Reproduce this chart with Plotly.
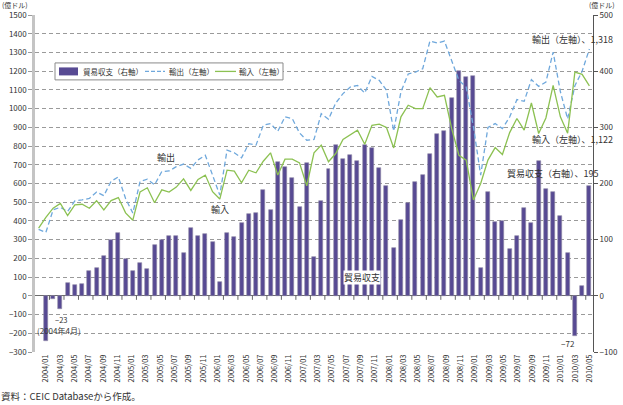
import plotly.graph_objects as go

# ---------------- data ----------------
months = [f"{y}/{m:02d}" for y in range(2004, 2011) for m in range(1, 13)][:77]  # 2004/01 .. 2010/05
tick_labels = months[::2]

exports = [355, 339, 459, 473, 450, 507, 512, 520, 555, 535,
           612, 635, 520, 442, 611, 623, 593, 664, 667, 690,
           704, 681, 726, 751, 645, 538, 778, 764, 737, 813,
           805, 911, 920, 879, 956, 947, 870, 831, 835, 973,
           943, 1030, 1080, 1115, 1124, 1083, 1172, 1151, 1098, 880,
           1090, 1185, 1195, 1213, 1361, 1350, 1361, 1260, 1151, 1115,
           902, 645, 899, 920, 893, 955, 1048, 1039, 1155, 1119,
           1142, 1302, 1090, 945, 1122, 1200, 1318]

imports = [362, 419, 468, 494, 429, 486, 489, 468, 508, 459,
           509, 525, 443, 404, 555, 577, 497, 566, 554, 581,
           625, 563, 622, 645, 556, 517, 671, 666, 604, 671,
           657, 719, 764, 645, 730, 730, 710, 588, 764, 805,
           716, 760, 835, 858, 885, 810, 911, 917, 899, 790,
           956, 1018, 1000, 1000, 1112, 1062, 1071, 893, 751, 725,
           512, 600, 725, 792, 755, 872, 947, 885, 1030, 867,
           950, 1124, 956, 869, 1195, 1183, 1121]

balance = [None, -80, -5, -23, 22, 19, 21, 45, 50, 71, 100,
           111, 65, 44, 58, 47, 90, 99, 106, 107, 77,
           121, 106, 110, 95, 25, 111, 104, 129, 145, 147,
           188, 153, 238, 229, 209, 159, 237, 69, 169, 225,
           269, 243, 250, 240, 269, 263, 227, 195, 86, 135,
           166, 202, 215, 253, 288, 294, 353, 401, 390, 391,
           49, 185, 132, 133, 83, 107, 157, 130, 240, 191,
           185, 142, 77, -72, 17, 195]

# ---------------- style ----------------
W, H = 623, 405
L, R, T, B = 35, 593, 15, 352.5
FONT = "Noto Sans CJK JP, Noto Sans, sans-serif"
TXT = "#333333"
BAR = "#574a93"
BLUE = "#6fa8dc"
GREEN = "#8cc152"


def px(x):
    return (x - L) / (R - L)


def py(y):
    return (B - y) / (B - T)


idx = list(range(len(months)))

fig = go.Figure()
fig.add_trace(go.Bar(x=idx, y=balance, yaxis="y", width=0.55,
                     marker=dict(color=BAR, line=dict(color="#8e8aa6", width=0.6)),
                     name="貿易収支（右軸）", showlegend=False))
fig.add_trace(go.Scatter(x=idx, y=exports, yaxis="y2", mode="lines",
                         line=dict(color=BLUE, width=1.3, dash="5px,3px"),
                         name="輸出（左軸）", showlegend=False))
fig.add_trace(go.Scatter(x=idx, y=imports, yaxis="y2", mode="lines",
                         line=dict(color=GREEN, width=1.3),
                         name="輸入（左軸）", showlegend=False))

first, last = 1, len(months) - 1
step = (last - first) / (len(tick_labels) - 1)
label_pos = [first + k * step for k in range(len(tick_labels))]
zero_ticks = [i + 0.5 for i in range(1, len(months) - 1, 2)]

shapes = []
for t in zero_ticks:
    shapes.append(dict(type="line", xref="x", yref="y", x0=t, x1=t,
                       ysizemode="pixel", yanchor=0, y0=0, y1=-4,
                       line=dict(color="#666666", width=1)))

# legend (manual)
shapes += [
    dict(type="rect", xref="paper", yref="paper", x0=px(55), x1=px(283), y0=py(80), y1=py(63),
         line=dict(color="#8a8a8a", width=1), fillcolor="white", layer="above"),
    dict(type="rect", xref="paper", yref="paper", x0=px(59), x1=px(78), y0=py(75.5), y1=py(67.5),
         line=dict(width=0), fillcolor=BAR, layer="above"),
    dict(type="line", xref="paper", yref="paper", x0=px(145), x1=px(165), y0=py(71.5), y1=py(71.5),
         line=dict(color=BLUE, width=1.3, dash="4px,2px"), layer="above"),
    dict(type="line", xref="paper", yref="paper", x0=px(215), x1=px(236), y0=py(71.5), y1=py(71.5),
         line=dict(color=GREEN, width=1.3), layer="above"),
]


def ann(text, x, y, size=9, xanchor="center", bg=None):
    d = dict(text=text, xref="paper", yref="paper", x=px(x), y=py(y), showarrow=False,
             xanchor=xanchor, yanchor="middle", font=dict(family=FONT, size=size, color=TXT),
             borderpad=0)
    if bg:
        d["bgcolor"] = bg
    return d


annotations = [
    ann("貿易収支（右軸）", 82, 71.5, 7.5, "left"),
    ann("輸出（左軸）", 168, 71.5, 7.5, "left"),
    ann("輸入（左軸）", 238, 71.5, 7.5, "left"),
    ann("(億ドル)", 1, 5, 7, "left"),
    ann("(億ドル)", 588, 5, 7, "left"),
    ann("輸出", 166, 158, 9),
    ann("輸入", 219.5, 210, 9),
    ann("貿易収支", 361.5, 278, 9, bg="white"),
    ann("輸出（左軸）、1,318", 614, 40, 9, "right"),
    ann("輸入（左軸）、1,122", 614, 140, 9, "right"),
    ann("貿易収支（右軸）、195", 600, 174, 9, "right"),
    ann("−72", 568, 344, 8),
    ann("−23", 61, 320, 7.5),
    ann("(2004年4月)", 59, 331, 8),
    ann("資料：CEIC Databaseから作成。", 0, 397, 9.5, "left"),
]

fig.update_layout(
    width=W, height=H,
    margin=dict(l=L, r=W - R, t=T, b=H - B, pad=0, autoexpand=False),
    paper_bgcolor="white", plot_bgcolor="white",
    font=dict(family=FONT, size=8, color=TXT),
    showlegend=False,
    bargap=0,
    xaxis=dict(range=[-0.5, len(months) - 0.5], tickmode="array", tickvals=label_pos,
               ticktext=tick_labels, tickangle=-90, ticks="", showgrid=False,
               zeroline=False, showline=False, automargin=False,
               tickfont=dict(size=7.5, color=TXT)),
    yaxis=dict(side="right", range=[-100, 500], dtick=100, tick0=0, showgrid=False,
               zeroline=True, zerolinecolor="#6b6b6b", zerolinewidth=1,
               showline=True, linecolor="#555555", linewidth=1, automargin=False,
               ticks="outside", ticklen=4, tickcolor="#555555",
               tickfont=dict(size=8, color=TXT)),
    yaxis2=dict(overlaying="y", side="left", range=[-300, 1500], dtick=100, tick0=0,
                showgrid=True, gridcolor="#9a9a9a", griddash="4px,3px", gridwidth=1,
                zeroline=False, showline=True, linecolor="#c4c4c4", linewidth=2.5,
                automargin=False,
                ticks="outside", ticklen=4, tickcolor="#9a9a9a",
                tickfont=dict(size=8, color=TXT)),
    shapes=shapes,
    annotations=annotations,
)

fig.write_html("out.html",
               config={"displayModeBar": False},
               post_script="document.body.style.margin='0';document.body.style.padding='0';")
